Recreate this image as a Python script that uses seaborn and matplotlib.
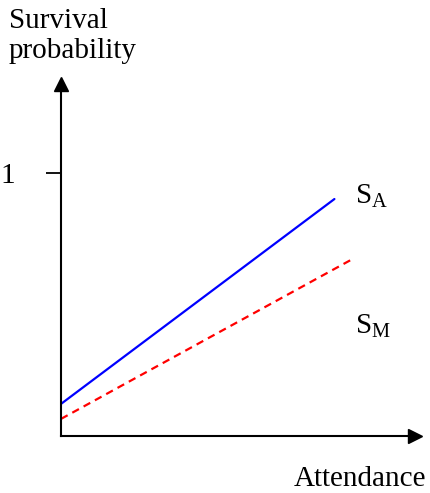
import matplotlib
matplotlib.use("Agg")
import matplotlib.pyplot as plt
import seaborn as sns
import pandas as pd

# ---- data ----
attendance_a = [0.0, 0.773]
survival_a = [0.122, 0.901]
attendance_m = [0.0, 0.819]
survival_m = [0.065, 0.669]
series_names = ["S_A", "S_M"]
ytick_values = [1]
ytick_labels = ["1"]

df = pd.DataFrame({
    "attendance": attendance_a + attendance_m,
    "survival": survival_a + survival_m,
    "series": [series_names[0]] * len(attendance_a) + [series_names[1]] * len(attendance_m),
})

sns.set_style("white")
plt.rcParams["font.family"] = ["Liberation Serif", "DejaVu Serif"]
plt.rcParams["mathtext.fontset"] = "custom"
plt.rcParams["mathtext.rm"] = "Liberation Serif"
plt.rcParams["text.color"] = "black"
plt.rcParams["axes.labelcolor"] = "black"
plt.rcParams["ytick.color"] = "black"
plt.rcParams["xtick.color"] = "black"

FS = 21

W, H = 431, 493
fig = plt.figure(figsize=(W / 100, H / 100), dpi=100)

left_px, right_px = 61, 414.7
bottom_px, top_px = 436, 84.3
ax = fig.add_axes([left_px / W, 1 - bottom_px / H,
                   (right_px - left_px) / W, (bottom_px - top_px) / H])

sns.lineplot(data=df, x="attendance", y="survival", hue="series", style="series",
             palette={"S_A": "#0000ff", "S_M": "#ff0000"},
             dashes={"S_A": "", "S_M": (3.4, 2.4)},
             linewidth=1.6, legend=False, ax=ax)

ax.set_xlim(0, 1)
ax.set_ylim(0, (bottom_px - top_px) / 263)

for s in ["top", "right"]:
    ax.spines[s].set_visible(False)
for s in ["left", "bottom"]:
    ax.spines[s].set_color("black")
    ax.spines[s].set_linewidth(1.5)

ax.set_xticks([])
ax.set_yticks(ytick_values)
ax.set_yticklabels(ytick_labels)
ax.tick_params(axis="y", left=True, length=10.8, width=1.3, pad=22,
               labelsize=FS, colors="black", direction="out")
ax.set_xlabel("")
ax.set_ylabel("")

# arrow heads
ax.plot(1, 0, ">k", markersize=10.5, transform=ax.get_yaxis_transform(), clip_on=False)
ax.plot(0, 1, "^k", markersize=10.5, transform=ax.get_xaxis_transform(), clip_on=False)

# series labels
ax.text(0.83, 0.886, r"$\mathrm{S}_{\mathrm{A}}$", fontsize=FS, va="baseline", ha="left",
        color="black")
ax.text(0.83, 0.392, r"$\mathrm{S}_{\mathrm{M}}$", fontsize=FS, va="baseline", ha="left",
        color="black")

fig.text(9 / W, 1 - 8 / H, "Survival\nprobability", fontsize=FS, va="top", ha="left",
         linespacing=1.2, color="black")
fig.text(426 / W, 1 - 486 / H, "Attendance", fontsize=FS, va="baseline", ha="right",
         color="black")

fig.savefig("out.png", dpi=100)
